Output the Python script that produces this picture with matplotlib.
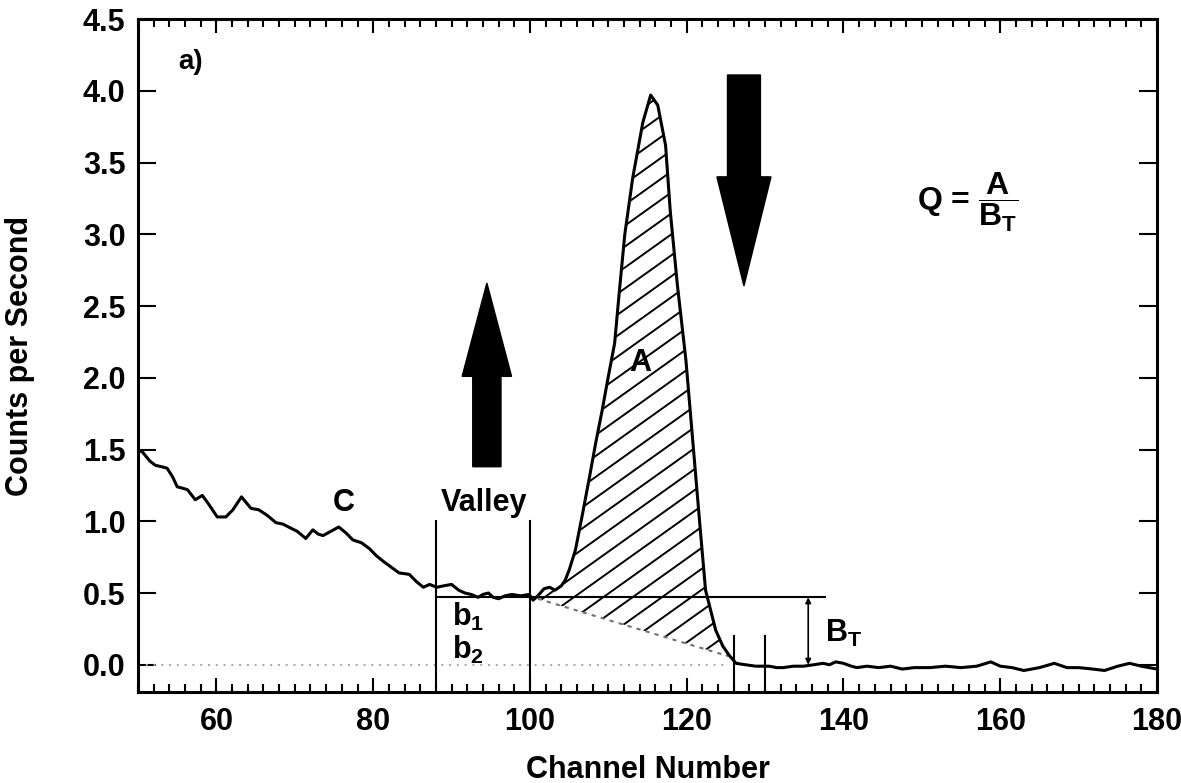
import numpy as np
import matplotlib
matplotlib.use("Agg")
import matplotlib.pyplot as plt
from matplotlib.collections import LineCollection
from matplotlib.ticker import MultipleLocator

plt.rcParams["font.family"] = ["Liberation Sans", "DejaVu Sans"]
plt.rcParams["font.weight"] = "bold"
plt.rcParams["mathtext.fontset"] = "custom"
plt.rcParams["mathtext.rm"] = "Liberation Sans:bold"
plt.rcParams["mathtext.it"] = "Liberation Sans:bold"
plt.rcParams["mathtext.bf"] = "Liberation Sans:bold"

# spectrum
channels = [
    50.0, 50.6, 51.5, 52.2, 53.0, 53.7, 54.4, 55.0, 55.7, 56.3, 57.3, 58.2, 59.0,
    60.1, 61.2, 62.1, 63.2, 64.4, 65.4, 66.5, 67.6, 68.5, 69.2, 70.3, 71.4, 72.3,
    73.0, 73.6, 74.6, 75.6, 76.5, 77.4, 78.5, 79.5, 80.4, 81.3, 82.3, 83.3, 84.6,
    85.5, 86.4, 87.2, 88.1, 89.0, 90.0, 90.9, 91.7, 92.5, 93.4, 94.0, 94.7, 95.3,
    96.0, 96.8, 97.7, 98.8, 99.9, 100.4, 101.0, 101.8, 102.5, 103.2, 104.0, 104.5,
    105.0, 105.8, 106.7, 107.6, 108.4, 109.2, 110.0, 110.8, 111.4, 112.1, 113.1,
    114.4, 115.4, 116.3, 117.3, 117.9, 118.8, 119.9, 120.8, 121.7, 122.4, 123.7,
    124.6, 125.5, 126.3, 127.5, 128.8, 130.5, 131.5, 132.3, 133.6, 134.9, 136.2,
    137.4, 138.2, 139.0, 140.0, 141.0, 141.7, 143.0, 144.5, 146.0, 147.5, 149.0,
    151.0, 153.0, 155.0, 157.0, 158.8, 160.0, 161.5, 163.0, 165.0, 166.9, 168.5,
    170.0, 171.8, 173.3, 175.0, 176.5, 178.0, 180.0,
]
counts = [
    1.50, 1.48, 1.42, 1.39, 1.38, 1.37, 1.31, 1.24, 1.23, 1.22, 1.15, 1.18, 1.12,
    1.03, 1.03, 1.08, 1.17, 1.09, 1.08, 1.04, 0.99, 0.98, 0.96, 0.93, 0.88, 0.94,
    0.91, 0.90, 0.93, 0.96, 0.92, 0.87, 0.85, 0.81, 0.76, 0.72, 0.68, 0.64, 0.63,
    0.58, 0.54, 0.56, 0.54, 0.55, 0.56, 0.52, 0.50, 0.49, 0.47, 0.49, 0.50, 0.47,
    0.46, 0.48, 0.49, 0.48, 0.49, 0.45, 0.48, 0.53, 0.54, 0.52, 0.55, 0.59,
    0.66, 0.80, 1.05, 1.31, 1.55, 1.77, 2.01, 2.24, 2.60, 3.00, 3.39,
    3.78, 3.97, 3.90, 3.62, 3.16, 2.65, 2.12, 1.54, 0.96, 0.52, 0.24,
    0.13, 0.06, 0.01, 0.00, -0.01, -0.01, -0.02, -0.02, -0.01, -0.01, 0.00,
    0.01, 0.00, 0.02, 0.01, -0.01, -0.02, -0.01, -0.02, -0.01, -0.03, -0.02,
    -0.02, -0.01, -0.02, -0.01, 0.02, -0.01, -0.02, -0.04, -0.02, 0.01, -0.02,
    -0.02, -0.03, -0.04, -0.01, 0.01, -0.01, -0.03,
]

# peak baseline (dotted) and marker positions
base_x = [101.0, 125.3]
base_y = [0.46, 0.06]
valley_x = [88.0, 100.0]
valley_top = 1.0
peak_end_x = [126.0, 130.0]
peak_end_top = 0.2
b_level = 0.47
b_line_x = [88.0, 137.7]
bt_x = 135.5
up_arrow = dict(x=94.5, y0=1.38, y1=2.66)
down_arrow = dict(x=127.3, y0=4.11, y1=2.64)

x = np.array(channels)
y = np.array(counts)

fig = plt.figure(figsize=(11.81, 7.83), dpi=100)
ax = fig.add_axes([0.1169, 0.1162, 0.8628, 0.8595])

# dotted zero line
ax.plot([50, 125], [0, 0], color="0.65", lw=1.4, ls=(0, (1, 3)))

# hatched peak area between curve and sloping baseline
m = (x >= base_x[0]) & (x <= base_x[1])
px = np.concatenate([[base_x[0]], x[m], [base_x[1]]])
py = np.interp(px, x, y)
pb = np.interp(px, base_x, base_y)
fill = ax.fill_between(px, pb, py, facecolor="none", edgecolor="none")
slope, step = 0.039, 0.146
segs = [[(98, slope * 98 + c), (130, slope * 130 + c)] for c in np.arange(-5.4, 0.4, step)]
hatch = LineCollection(segs, colors="black", linewidths=1.4)
ax.add_collection(hatch)
hatch.set_clip_path(fill.get_paths()[0], ax.transData)

ax.plot(base_x, base_y, color="0.45", lw=1.5, ls=(0, (2, 2.5)))

# spectrum
ax.plot(x, y, color="black", lw=2.2)

# valley and region markers
for vx in valley_x:
    ax.plot([vx, vx], [-0.2, valley_top], color="black", lw=1.5)
for vx in peak_end_x:
    ax.plot([vx, vx], [-0.2, peak_end_top], color="black", lw=1.5)
ax.plot(b_line_x, [b_level, b_level], color="black", lw=1.5)
ax.annotate("", xy=(bt_x, 0.0), xytext=(bt_x, b_level),
            arrowprops=dict(arrowstyle="<|-|>", color="black", lw=1.2, mutation_scale=8,
                            shrinkA=0, shrinkB=0))

# big arrows
ax.arrow(up_arrow["x"], up_arrow["y0"], 0, up_arrow["y1"] - up_arrow["y0"], width=3.6,
         head_width=6.3, head_length=0.65, length_includes_head=True, color="black")
ax.arrow(down_arrow["x"], down_arrow["y0"], 0, down_arrow["y1"] - down_arrow["y0"], width=4.2,
         head_width=6.9, head_length=0.76, length_includes_head=True, color="black")

# labels
fs = 22
ax.text(56.7, 4.20, "a)", fontsize=20, ha="center", va="center")
ax.text(76.2, 1.13, "C", fontsize=fs, ha="center", va="center")
ax.text(94.2, 1.125, "Valley", fontsize=fs, ha="center", va="center")
ax.text(114.1, 2.10, "A", fontsize=fs, ha="center", va="center")
ax.text(90.0, 0.33, "b$_1$", fontsize=fs, ha="left", va="center")
ax.text(90.0, 0.10, "b$_2$", fontsize=fs, ha="left", va="center")
ax.text(137.7, 0.22, "B$_T$", fontsize=fs, ha="left", va="center")
ax.text(149.4, 3.22, r"Q = $\dfrac{A}{B_T}$", fontsize=23, ha="left", va="center")

ax.set_xlim(50, 180)
ax.set_ylim(-0.19, 4.5)
ax.xaxis.set_minor_locator(MultipleLocator(2))
ax.set_xticks(np.arange(60, 181, 20))
ax.set_yticks(np.arange(0, 4.51, 0.5))
ax.set_yticklabels([f"{v:.1f}" for v in np.arange(0, 4.51, 0.5)])
ax.tick_params(axis="x", which="major", direction="in", top=True, length=10, width=1.5,
               labelsize=fs, pad=11)
ax.tick_params(axis="x", which="minor", direction="in", top=True, length=6, width=1.5)
ax.tick_params(axis="y", which="major", direction="in", right=True, length=13, width=1.5,
               labelsize=fs, pad=9)
for s in ax.spines.values():
    s.set_linewidth(2.2)

ax.set_xlabel("Channel Number", fontsize=fs, fontweight="bold")
ax.set_ylabel("Counts per Second", fontsize=fs, fontweight="bold")
ax.xaxis.set_label_coords(0.5, -0.093)
ax.yaxis.set_label_coords(-0.101, 0.5)

fig.savefig("out.png", dpi=100)
